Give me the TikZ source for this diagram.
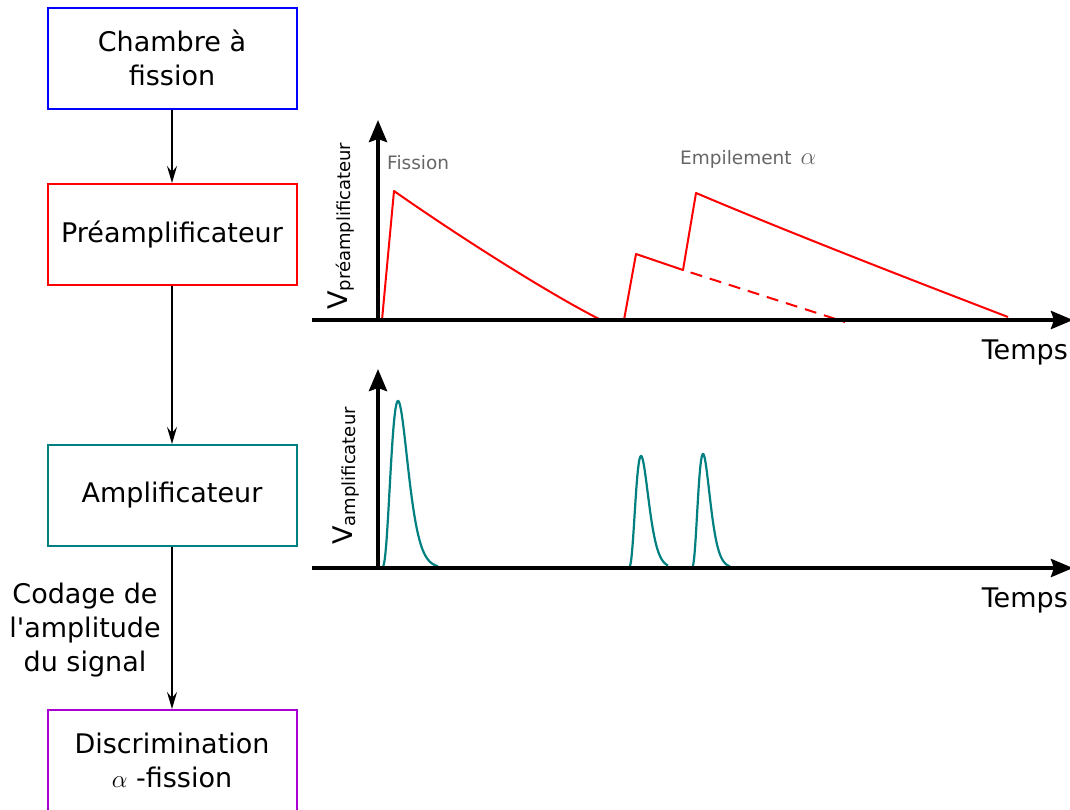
\documentclass[tikz,border=0pt]{standalone}
\usepackage{fontspec}
\setmainfont{DejaVu Sans}
\usetikzlibrary{arrows.meta}
\definecolor{tealc}{RGB}{0,128,128}
\definecolor{purplec}{RGB}{170,0,212}
\definecolor{notegray}{RGB}{102,102,102}
\begin{document}
\begin{tikzpicture}[x=1pt,y=-1pt,
  declare function={gg(\t)=\t*exp(1-\t); sh(\t)=gg(\t)*gg(\t)*gg(\t)*gg(\t);},
  box/.style={draw, line width=2pt, minimum width=249pt, minimum height=101pt, inner sep=0pt, align=center, font=\fontsize{27}{34}\selectfont},
  link/.style={line width=2pt, -{Stealth[length=17pt,width=10pt,inset=6pt]}},
  axis/.style={line width=4pt, -{Stealth[length=22pt,width=18pt,inset=3pt]}},
  lbl/.style={font=\fontsize{27}{34}\selectfont, inner sep=0pt},
  note/.style={text=notegray, font=\fontsize{18.5}{22}\selectfont, inner sep=0pt},
  sig/.style={red, line width=2pt, line join=round},
  pulse/.style={tealc, line width=2.2pt}]
\clip (0,0) rectangle (1070,809);

% --- block chain ---
\node[box, draw=blue] (ch) at (172,58) {Chambre à\\fission};
\node[box, draw=red] (pre) at (172,234.5) {Préamplificateur};
\node[box, draw=tealc] (amp) at (172,495.5) {Amplificateur};
\node[box, draw=purplec] (disc) at (172,760.5) {Discrimination\\$\alpha$ -fission};

\draw[link] (ch) -- (pre);
\draw[link] (pre) -- (amp);
\draw[link] (amp) -- (disc);
\node[lbl, align=center] (codage) at (85,630) {Codage de\\l\textquotesingle amplitude\\du signal};

% --- preamplifier plot ---
\draw[sig] (382,320) -- (394,191) .. controls (464,240) and (553,296) .. (603,321);
\draw[sig] (624,320) -- (636,254) -- (683,270) -- (696,193) .. controls (800,237) and (930,287) .. (1008,317);
\draw[sig, dash pattern=on 12pt off 8pt, dash phase=12pt] (683,270) -- (845,322);

\coordinate (o1) at (378,321);
\coordinate (x1s) at (312,320);
\coordinate (x1e) at (1073,320);
\coordinate (y1e) at (378,120);
\draw[axis] (x1s) -- (x1e);
\draw[axis] (o1) -- (y1e);

\node[lbl, anchor=base east] (t1) at (1068,359) {Temps};
\node[inner sep=0pt, rotate=90, anchor=base west] (v1) at (347,310)
  {{\fontsize{27}{27}\selectfont V}{\fontsize{18}{18}\selectfont\raisebox{-3pt}{préamplificateur}}};
\node[note, anchor=base west] (fis) at (387,169) {Fission};
\node[note, anchor=base west] (emp) at (680,164) {Empilement\hspace{9pt}{\fontsize{27}{27}\selectfont$\alpha$}};

% --- amplifier plot ---
\draw[pulse] plot[domain=0:57, samples=90, smooth] ({381+\x}, {568 - 167*sh(\x/17)});
\draw[pulse] plot[domain=0:40, samples=70, smooth] ({628+\x}, {568 - 112*sh(\x/13)});
\draw[pulse] plot[domain=0:39, samples=70, smooth] ({691+\x}, {568 - 114*sh(\x/12)});

\coordinate (o2) at (378,569);
\coordinate (x2s) at (312,568);
\coordinate (x2e) at (1073,568);
\coordinate (y2e) at (378,369);
\draw[axis] (x2s) -- (x2e);
\draw[axis] (o2) -- (y2e);

\node[lbl, anchor=base east] (t2) at (1068,607) {Temps};
\node[inner sep=0pt, rotate=90, anchor=base west] (v2) at (352,545)
  {{\fontsize{27}{27}\selectfont V}{\fontsize{18}{18}\selectfont\raisebox{-3pt}{amplificateur}}};
\end{tikzpicture}
\end{document}
